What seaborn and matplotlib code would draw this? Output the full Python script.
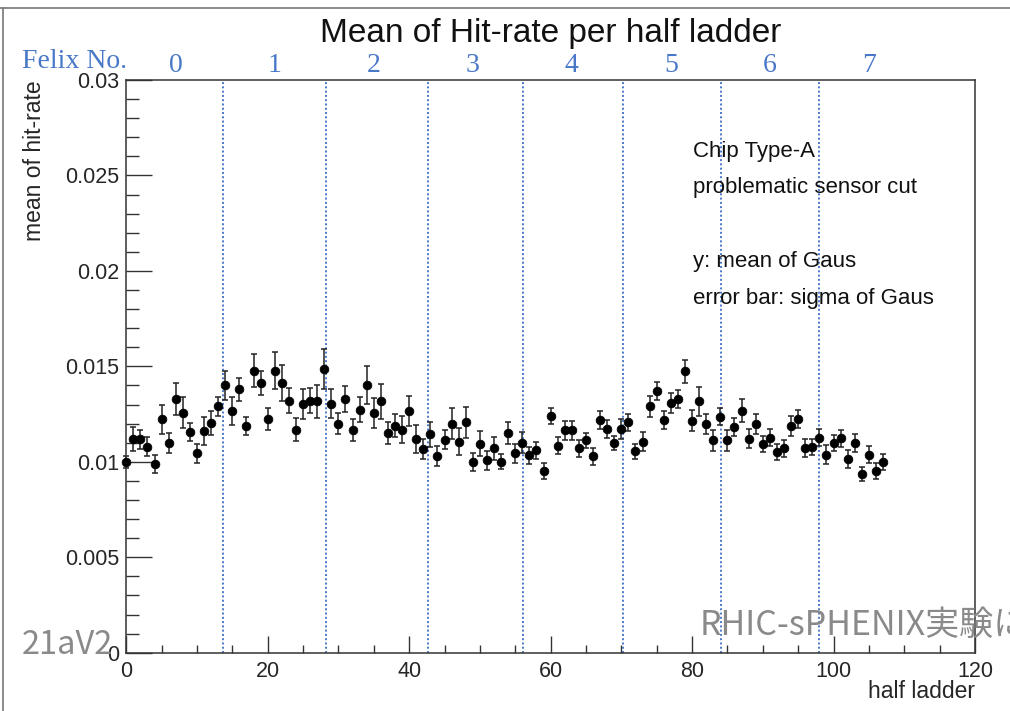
import matplotlib
matplotlib.use("Agg")
import numpy as np
import pandas as pd
import seaborn as sns
import matplotlib.pyplot as plt
from matplotlib.ticker import MultipleLocator, FuncFormatter
from matplotlib.lines import Line2D

# ---------------- data ----------------
half_ladder = list(range(108))
hit_rate_mean = [
    0.01000, 0.01120, 0.01118, 0.01080, 0.00990, 0.01222, 0.01100, 0.01328, 0.01258, 0.01157,
    0.01044, 0.01162, 0.01202, 0.01290, 0.01400, 0.01266, 0.01381, 0.01189, 0.01478, 0.01412,
    0.01224, 0.01478, 0.01412, 0.01321, 0.01168, 0.01302, 0.01321, 0.01316, 0.01487, 0.01304,
    0.01199, 0.01329, 0.01168, 0.01272, 0.01402, 0.01255, 0.01316, 0.01150, 0.01189, 0.01168,
    0.01267, 0.01119, 0.01067, 0.01145, 0.01031, 0.01115, 0.01199, 0.01106, 0.01206, 0.01000,
    0.01094, 0.01007, 0.01070, 0.01000, 0.01150, 0.01045, 0.01100, 0.01033, 0.01060, 0.00950,
    0.01240, 0.01084, 0.01164, 0.01164, 0.01070, 0.01112, 0.01028, 0.01220, 0.01171, 0.01098,
    0.01170, 0.01206, 0.01054, 0.01106, 0.01290, 0.01372, 0.01220, 0.01308, 0.01329, 0.01473,
    0.01216, 0.01316, 0.01199, 0.01112, 0.01237, 0.01112, 0.01182, 0.01267, 0.01120, 0.01198,
    0.01093, 0.01127, 0.01049, 0.01070, 0.01189, 0.01225, 0.01070, 0.01077, 0.01127, 0.01037,
    0.01098, 0.01124, 0.01016, 0.01098, 0.00936, 0.01037, 0.00953, 0.01000,
]
hit_rate_sigma = [
    0.00030, 0.00064, 0.00050, 0.00050, 0.00047, 0.00077, 0.00052, 0.00085, 0.00079, 0.00048,
    0.00050, 0.00074, 0.00064, 0.00048, 0.00074, 0.00072, 0.00060, 0.00048, 0.00087, 0.00064,
    0.00060, 0.00098, 0.00093, 0.00064, 0.00061, 0.00077, 0.00066, 0.00087, 0.00105, 0.00077,
    0.00055, 0.00070, 0.00058, 0.00066, 0.00098, 0.00079, 0.00093, 0.00059, 0.00060, 0.00070,
    0.00079, 0.00074, 0.00052, 0.00066, 0.00052, 0.00050, 0.00081, 0.00070, 0.00080, 0.00048,
    0.00066, 0.00048, 0.00060, 0.00040, 0.00057, 0.00050, 0.00054, 0.00042, 0.00046, 0.00042,
    0.00041, 0.00044, 0.00050, 0.00050, 0.00044, 0.00041, 0.00046, 0.00048, 0.00046, 0.00037,
    0.00052, 0.00046, 0.00040, 0.00050, 0.00056, 0.00048, 0.00048, 0.00054, 0.00048, 0.00058,
    0.00054, 0.00074, 0.00052, 0.00057, 0.00044, 0.00057, 0.00048, 0.00061, 0.00050, 0.00050,
    0.00044, 0.00044, 0.00042, 0.00045, 0.00052, 0.00048, 0.00047, 0.00044, 0.00044, 0.00050,
    0.00044, 0.00044, 0.00048, 0.00048, 0.00039, 0.00044, 0.00041, 0.00041,
]
felix_numbers = [0, 1, 2, 3, 4, 5, 6, 7]
felix_boundaries = [13.7, 28.3, 42.7, 56.1, 70.2, 84.1, 98.0]
felix_width = 14
info_lines = ["Chip Type-A", "problematic sensor cut", "", "y: mean of Gaus", "error bar: sigma of Gaus"]

df = pd.DataFrame({"half ladder": half_ladder, "mean": hit_rate_mean, "sigma": hit_rate_sigma})

# ---------------- style ----------------
sns.set_style("white")
plt.rcParams["font.family"] = ["Liberation Sans", "DejaVu Sans"]
FELIX_BLUE = "#4a78c8"
AX_COL = "#333333"

fig = plt.figure(figsize=(10.10, 7.11), dpi=100)
ax = fig.add_axes([0.1250, 0.0820, 0.8403, 0.8055])

# felix boundaries
for b in felix_boundaries:
    ax.axvline(b, color=FELIX_BLUE, lw=1.4, ls=(0, (1, 1.2)), zorder=1)

# error bars + markers
ax.errorbar(df["half ladder"], df["mean"], yerr=df["sigma"], fmt="none",
            ecolor="#222222", elinewidth=1.1, capsize=2.4, capthick=1.1, zorder=2, clip_on=False)
sns.scatterplot(data=df, x="half ladder", y="mean", ax=ax, color="black", s=40,
                edgecolor="black", linewidth=0.5, zorder=3, clip_on=False, legend=False)

ax.set_xlim(0, 120)
ax.set_ylim(0, 0.03)

# ticks (ROOT-like)
ax.xaxis.set_major_locator(MultipleLocator(20))
ax.xaxis.set_minor_locator(MultipleLocator(5))
ax.yaxis.set_major_locator(MultipleLocator(0.005))
ax.yaxis.set_minor_locator(MultipleLocator(0.001))
ax.yaxis.set_major_formatter(FuncFormatter(lambda v, p: "%g" % round(v, 4)))
ax.tick_params(axis="x", which="major", direction="in", length=12, width=1.0, color=AX_COL,
               labelsize=15.5, pad=6, bottom=True, top=False)
ax.tick_params(axis="x", which="minor", direction="in", length=6, width=1.0, color=AX_COL,
               bottom=True, top=False)
ax.tick_params(axis="y", which="major", direction="in", length=19, width=1.0, color=AX_COL,
               labelsize=15.5, pad=5, left=True, right=False)
ax.tick_params(axis="y", which="minor", direction="in", length=9.5, width=1.0, color=AX_COL,
               left=True, right=False)
for s in ax.spines.values():
    s.set_visible(True)
    s.set_color(AX_COL)
    s.set_linewidth(1.1)

# axis titles
ax.set_xlabel("half ladder", fontsize=16.5, loc="right")
ax.xaxis.set_label_coords(1.0, -0.048)
ax.set_ylabel("mean of hit-rate", fontsize=16.5, loc="top")
ax.yaxis.set_label_coords(-0.095, 1.0)

# title
ax.set_title("Mean of Hit-rate per half ladder", fontsize=24, y=1.0664, pad=0, color="#111111")

# Felix numbers
tr = ax.get_xaxis_transform()
for n in felix_numbers:
    ax.text(felix_width * n + felix_width / 2, 1.0145, str(n), transform=tr, ha="center",
            va="baseline", fontsize=20, color=FELIX_BLUE, family=["Liberation Serif", "DejaVu Serif"])
fig.text(22 / 1010, 1 - 68.5 / 711, "Felix No.", ha="left", va="baseline", fontsize=20,
         color=FELIX_BLUE, family=["Liberation Serif", "DejaVu Serif"])

# info text
y0 = 0.8661
dy = 0.0641
for i, line in enumerate(info_lines):
    if line:
        ax.text(0.6677, y0 - i * dy, line, transform=ax.transAxes, ha="left", va="baseline",
                fontsize=16, color="#111111")

# slide overlays
fig.text(22 / 1010, 1 - 654 / 711, "21aV2", ha="left", va="baseline", fontsize=23.5,
         color="#8a8a8a", family=["Noto Sans CJK JP", "DejaVu Sans"])
fig.text(700 / 1010, 1 - 635 / 711, "RHIC-sPHENIX実験に", ha="left", va="baseline", fontsize=24.5,
         color="#8a8a8a", family=["Noto Sans CJK JP", "DejaVu Sans"])

# canvas window border
fig.add_artist(Line2D([0, 1], [1 - 7.5 / 711, 1 - 7.5 / 711], transform=fig.transFigure,
                      color="#777777", lw=1.2))
fig.add_artist(Line2D([3 / 1010, 3 / 1010], [0, 1 - 7.5 / 711], transform=fig.transFigure,
                      color="#777777", lw=1.2))

fig.savefig("out.png", dpi=100)
